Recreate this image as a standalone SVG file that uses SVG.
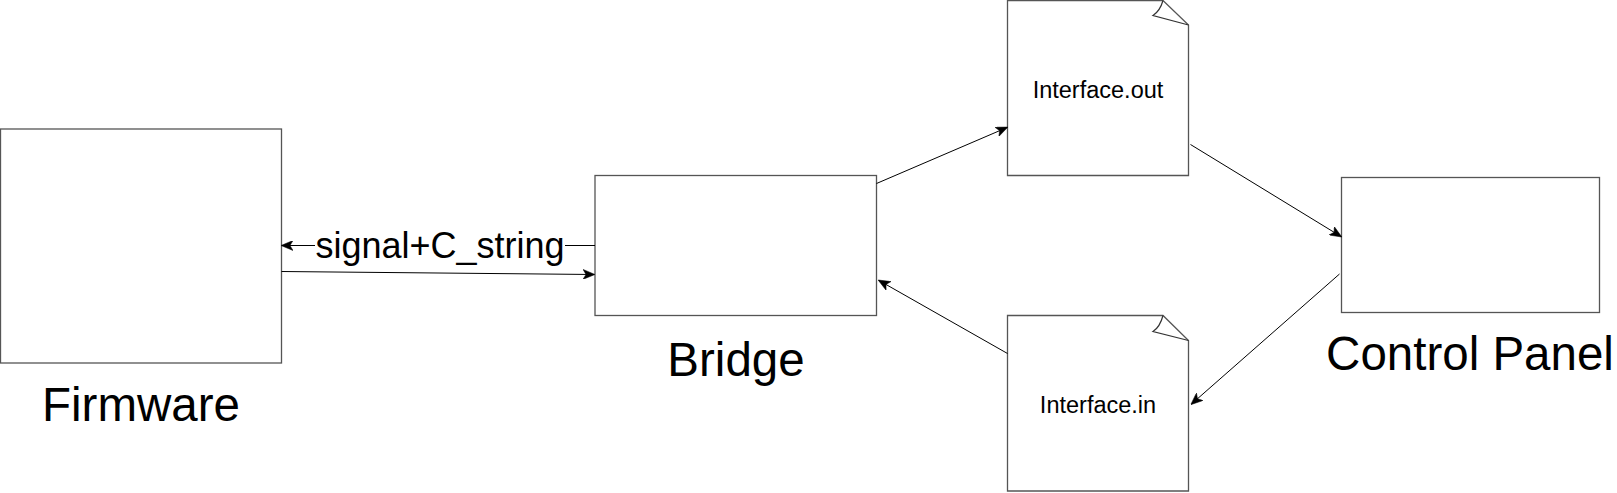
<svg xmlns="http://www.w3.org/2000/svg" width="1617" height="493" viewBox="0 0 1617 493">
<style>
.box{fill:#fff;stroke:#555;stroke-width:1.3}
.curl{fill:none;stroke:#333;stroke-width:1.2}
.edge{fill:none;stroke:#000;stroke-width:1}
.big{font-family:"Liberation Sans",Arial,sans-serif;font-size:47.5px;fill:#000;text-anchor:middle}
.mid{font-family:"Liberation Sans",Arial,sans-serif;font-size:36px;fill:#000;text-anchor:middle}
.small{font-family:"Liberation Sans",Arial,sans-serif;font-size:23.5px;fill:#000;text-anchor:middle}
</style>
<defs>
<marker id="arr" viewBox="0 0 12 10" refX="11" refY="5" markerWidth="12" markerHeight="10" markerUnits="userSpaceOnUse" orient="auto">
<path d="M0,0 L12,5 L0,10 L3,5 Z" fill="#000" stroke="#000" stroke-width="0.5"/>
</marker>
</defs>
<rect width="1617" height="493" fill="#fff"/>
<g id="firmware">
<rect class="box" x="0.5" y="129" width="281" height="234"/>
<text class="big" x="141" y="421">Firmware</text>
</g>
<g id="bridge">
<rect class="box" x="595" y="175.5" width="281.5" height="140"/>
<text class="big" x="736" y="376">Bridge</text>
</g>
<g id="interface-out">
<path class="box" d="M1007.5,0.5 H1163 L1188.5,25 V175.5 H1007.5 Z"/>
<path class="curl" d="M1163,0.5 Q1160,11 1153,15.5 L1188.5,25"/>
<text class="small" x="1098" y="98">Interface.out</text>
</g>
<g id="interface-in">
<path class="box" d="M1007.5,315.5 H1163 L1188.5,340.5 V491 H1007.5 Z"/>
<path class="curl" d="M1163,315.5 Q1160,327 1153,331.5 L1188.5,340.5"/>
<text class="small" x="1098" y="413">Interface.in</text>
</g>
<g id="control-panel">
<rect class="box" x="1341.5" y="177.5" width="258" height="135"/>
<text class="big" x="1470" y="370">Control Panel</text>
</g>
<g id="connectors">
<path class="edge" d="M595,245.5 H565"/>
<path class="edge" d="M315,245.5 H282" marker-end="url(#arr)"/>
<text class="mid" x="440" y="258">signal+C_string</text>
<path class="edge" d="M281.5,271.5 L594,274.5" marker-end="url(#arr)"/>
<path class="edge" d="M876.5,183.5 L1007,127.5" marker-end="url(#arr)"/>
<path class="edge" d="M1190.5,144.5 L1341,236.5" marker-end="url(#arr)"/>
<path class="edge" d="M1339.5,274 L1191.5,404" marker-end="url(#arr)"/>
<path class="edge" d="M1007.5,353.5 L879,280.5" marker-end="url(#arr)"/>
</g>
</svg>
